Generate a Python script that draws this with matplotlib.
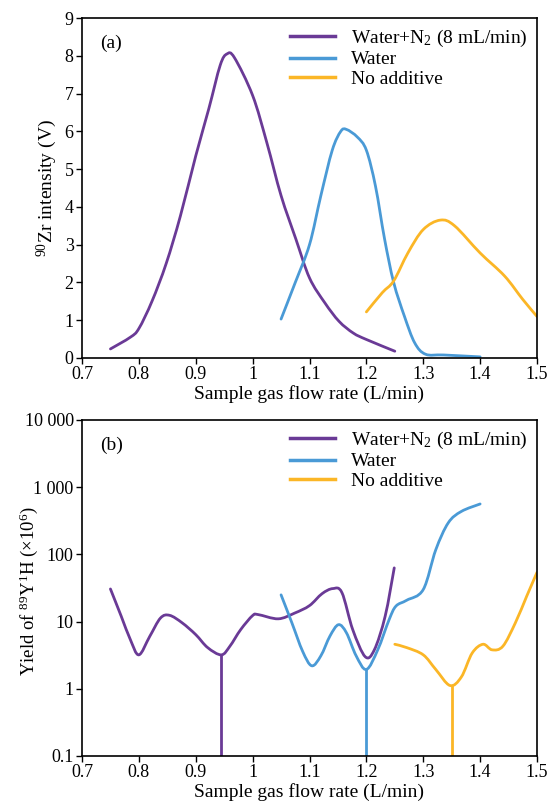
import matplotlib
matplotlib.use("Agg")
import numpy as np
import matplotlib.pyplot as plt
from matplotlib.path import Path
from matplotlib.patches import PathPatch
from matplotlib.lines import Line2D
from matplotlib.ticker import FixedLocator, NullLocator

plt.rcParams["font.family"] = ["Liberation Serif", "DejaVu Serif"]
plt.rcParams["mathtext.fontset"] = "custom"
plt.rcParams["mathtext.rm"] = "Liberation Serif"
plt.rcParams["mathtext.it"] = "Liberation Serif:italic"

# series labels and colours
labels = ["Water+N$_2$ (8 mL/min)", "Water", "No additive"]
colors = ["#6A3A96", "#4A9AD6", "#FBB626"]

# (a) 90Zr intensity (V)
zr_n2_x = [0.75, 0.785, 0.8, 0.823, 0.848, 0.873, 0.9, 0.923, 0.943, 0.955, 0.968,
           1.0, 1.025, 1.05, 1.076, 1.1, 1.127, 1.152, 1.177, 1.2, 1.25]
zr_n2_y = [0.24, 0.55, 0.78, 1.5, 2.5, 3.76, 5.35, 6.6, 7.75, 8.05, 7.95,
           6.95, 5.7, 4.3, 3.15, 2.12, 1.46, 0.97, 0.66, 0.49, 0.18]
zr_w_x = [1.05, 1.075, 1.1, 1.12, 1.14, 1.155, 1.165, 1.184, 1.2, 1.216, 1.232,
          1.248, 1.267, 1.285, 1.304, 1.336, 1.4]
zr_w_y = [1.03, 2.0, 3.0, 4.3, 5.5, 6.0, 6.05, 5.85, 5.5, 4.55, 3.15,
          2.0, 1.1, 0.4, 0.1, 0.08, 0.03]
zr_na_x = [1.2, 1.228, 1.248, 1.273, 1.3, 1.33, 1.355, 1.4, 1.443, 1.475, 1.5]
zr_na_y = [1.22, 1.73, 2.04, 2.78, 3.4, 3.65, 3.5, 2.78, 2.17, 1.55, 1.1]

# (b) yield of 89Y1H (x10^6)
yh_n2_x = [0.75, 0.769, 0.785, 0.8, 0.819, 0.838, 0.854, 0.876, 0.9, 0.921, 0.945,
           0.96, 0.979, 1.0, 1.01, 1.045, 1.074, 1.1, 1.122, 1.141, 1.157, 1.176,
           1.198, 1.214, 1.233, 1.249]
yh_n2_y = [30.6, 12, 5.4, 3.2, 6.0, 11.3, 12.4, 9.6, 6.4, 4.1, 3.2,
           4.3, 7.6, 12.3, 12.7, 11, 13.4, 17.3, 26, 31, 27, 7.6,
           3.0, 3.8, 12, 63]
yh_w_x = [1.05, 1.069, 1.088, 1.104, 1.12, 1.136, 1.151, 1.165, 1.182, 1.2, 1.22,
          1.24, 1.252, 1.271, 1.3, 1.322, 1.344, 1.367, 1.4]
yh_w_y = [25, 9.6, 3.6, 2.2, 3.1, 6.1, 9.0, 6.8, 3.1, 1.94, 3.8,
          10.7, 17, 20.8, 30, 117, 295, 436, 563]
yh_na_x = [1.25, 1.271, 1.3, 1.322, 1.347, 1.367, 1.386, 1.405, 1.421, 1.44, 1.462,
           1.482, 1.5]
yh_na_y = [4.6, 4.1, 3.2, 1.94, 1.12, 1.5, 3.4, 4.6, 3.8, 4.3, 9.6, 24, 54]
# drops to zero (off the log scale)
drop_x = [0.945, 1.2, 1.35]
drop_top = [3.2, 1.94, 1.12]

x_ticks = [0.7, 0.8, 0.9, 1.0, 1.1, 1.2, 1.3, 1.4, 1.5]
x_ticklabels = ["0.7", "0.8", "0.9", "1", "1.1", "1.2", "1.3", "1.4", "1.5"]
ya_ticks = list(range(10))
yb_ticks = [0.1, 1, 10, 100, 1000, 10000]
yb_ticklabels = ["0.1", "1", "10", "100", "1 000", "10 000"]

W, H = 558, 807
fig = plt.figure(figsize=(W / 100, H / 100), dpi=100)
ax1 = fig.add_axes([82 / W, 1 - 358 / H, 455 / W, 340 / H])
ax2 = fig.add_axes([82 / W, 1 - 756 / H, 455 / W, 336 / H])

fs = 14
tfs = 13
lw = 2.0


def smooth_line(ax, xs, ys, color, logy=False):
    # draw a smoothed (Catmull-Rom as Bezier) curve through the read points
    x = np.asarray(xs, float)
    y = np.log10(ys) if logy else np.asarray(ys, float)
    verts = [(x[0], y[0])]
    codes = [Path.MOVETO]
    n = len(x)
    for i in range(n - 1):
        p0 = (x[max(i - 1, 0)], y[max(i - 1, 0)])
        p1 = (x[i], y[i])
        p2 = (x[i + 1], y[i + 1])
        p3 = (x[min(i + 2, n - 1)], y[min(i + 2, n - 1)])
        c1 = (p1[0] + (p2[0] - p0[0]) / 6, p1[1] + (p2[1] - p0[1]) / 6)
        c2 = (p2[0] - (p3[0] - p1[0]) / 6, p2[1] - (p3[1] - p1[1]) / 6)
        verts += [c1, c2, p2]
        codes += [Path.CURVE4] * 3
    verts = np.array(verts)
    if logy:
        verts[:, 1] = 10 ** verts[:, 1]
    patch = PathPatch(Path(verts, codes), facecolor="none", edgecolor=color,
                      lw=lw, capstyle="round", joinstyle="round")
    ax.add_patch(patch)


def style(ax):
    ax.set_xlim(0.7, 1.5)
    ax.xaxis.set_major_locator(FixedLocator(x_ticks))
    ax.set_xticklabels(x_ticklabels)
    ax.tick_params(direction="out", length=4, width=1, labelsize=tfs, pad=2,
                   top=False, right=False)
    ax.set_xlabel("Sample gas flow rate (L/min)", fontsize=fs, labelpad=1)
    for s in ax.spines.values():
        s.set_linewidth(1.2)
    handles = [Line2D([], [], color=c, lw=lw + 0.5) for c in colors]
    ax.legend(handles, labels, loc="upper right", frameon=False, fontsize=fs,
              handlelength=2.3, handletextpad=0.8, labelspacing=0.1,
              borderaxespad=0.1)


smooth_line(ax1, zr_n2_x, zr_n2_y, colors[0])
smooth_line(ax1, zr_w_x, zr_w_y, colors[1])
smooth_line(ax1, zr_na_x, zr_na_y, colors[2])
ax1.set_ylim(0, 9)
ax1.yaxis.set_major_locator(FixedLocator(ya_ticks))
ax1.set_ylabel("$^{90}$Zr intensity (V)", fontsize=fs)
ax1.yaxis.set_label_coords(-0.05, 0.5)
ax1.text(0.04, 0.925, "(a)", transform=ax1.transAxes, fontsize=fs, va="center")
style(ax1)

ax2.set_yscale("log")
smooth_line(ax2, yh_n2_x, yh_n2_y, colors[0], logy=True)
smooth_line(ax2, yh_w_x, yh_w_y, colors[1], logy=True)
smooth_line(ax2, yh_na_x, yh_na_y, colors[2], logy=True)
for xv, top, c in zip(drop_x, drop_top, colors):
    ax2.vlines(xv, 0.1, top, color=c, lw=lw)
ax2.set_ylim(0.1, 10000)
ax2.yaxis.set_major_locator(FixedLocator(yb_ticks))
ax2.yaxis.set_minor_locator(NullLocator())
ax2.set_yticklabels(yb_ticklabels)
ax2.set_ylabel("Yield of $^{89}$Y$^{1}$H (×10$^{6}$)", fontsize=13.5)
ax2.yaxis.set_label_coords(-0.092, 0.49)
ax2.text(0.04, 0.925, "(b)", transform=ax2.transAxes, fontsize=fs, va="center")
style(ax2)

fig.savefig("out.png", dpi=100)
